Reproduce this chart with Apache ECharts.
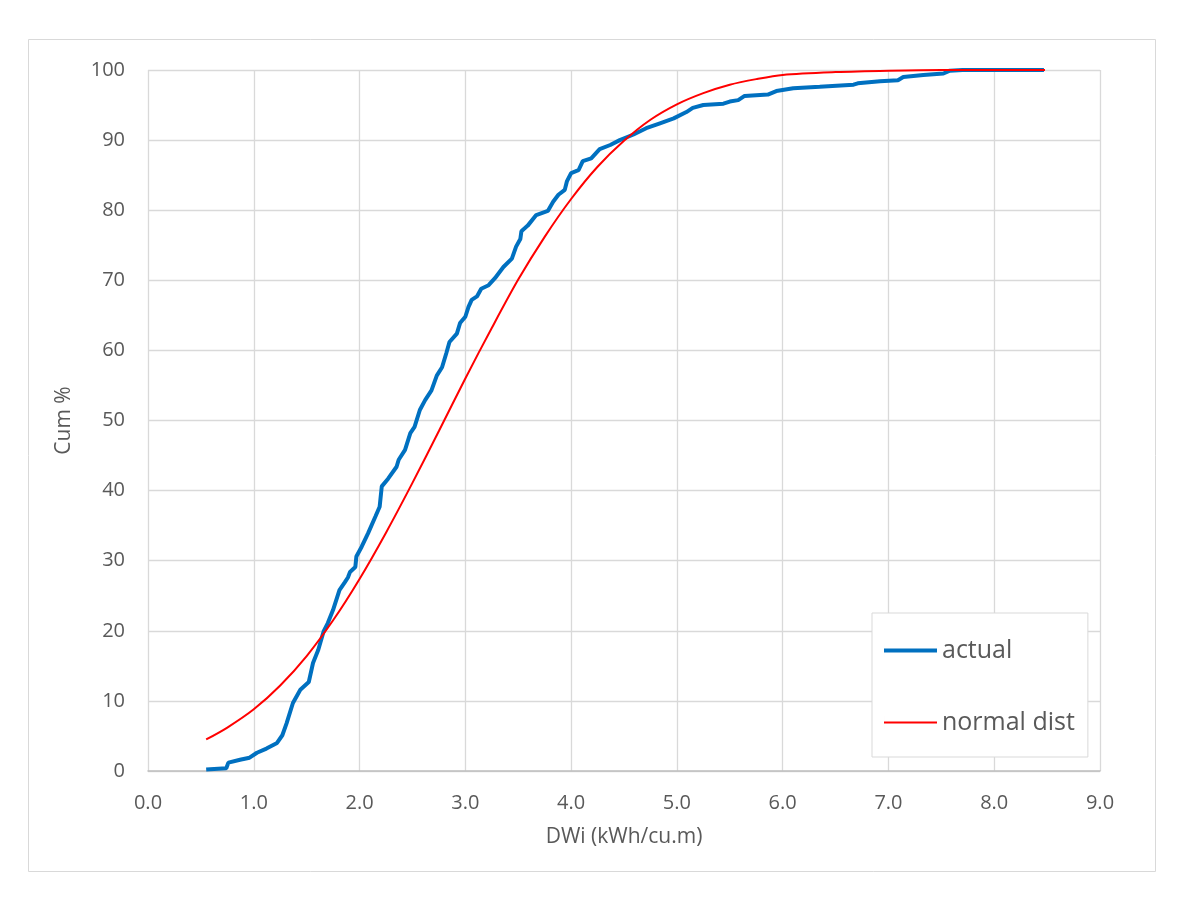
<!DOCTYPE html>
<html>
<head>
<meta charset="utf-8">
<script src="https://cdn.jsdelivr.net/npm/echarts@6/dist/echarts.min.js"></script>
<style>
html,body{margin:0;padding:0;background:#fff;}
#chart{width:1185px;height:914px;}
</style>
</head>
<body>
<div id="chart"></div>
<script>
// ---- data ----
const actualX = [0.55,0.74,0.76,0.87,0.96,1.03,1.12,1.22,1.27,1.31,1.37,1.44,1.52,1.56,1.61,1.66,1.70,1.75,1.81,1.86,1.89,1.91,1.96,1.97,2.02,2.08,2.15,2.19,2.21,2.27,2.35,2.37,2.43,2.48,2.52,2.57,2.62,2.68,2.73,2.78,2.82,2.85,2.92,2.95,3.00,3.03,3.06,3.11,3.15,3.22,3.28,3.36,3.44,3.48,3.52,3.53,3.59,3.67,3.78,3.83,3.88,3.94,3.96,4.00,4.07,4.11,4.19,4.27,4.37,4.46,4.59,4.71,4.84,4.97,5.09,5.15,5.25,5.44,5.50,5.58,5.64,5.86,5.94,6.10,6.35,6.67,6.71,6.92,7.09,7.14,7.33,7.52,7.58,7.70,8.47];
const actualY = [0.2,0.4,1.2,1.6,1.9,2.6,3.2,4.0,5.1,6.8,9.7,11.6,12.7,15.4,17.3,19.9,21.1,23.0,25.8,26.9,27.6,28.4,29.1,30.6,32.0,33.9,36.3,37.7,40.6,41.7,43.4,44.4,45.8,48.2,49.1,51.5,52.9,54.3,56.4,57.6,59.6,61.2,62.4,63.9,64.8,66.2,67.2,67.7,68.8,69.3,70.3,71.9,73.1,74.8,75.9,77.0,77.8,79.3,79.9,81.2,82.2,82.9,84.1,85.3,85.7,87.0,87.4,88.7,89.3,90.0,90.8,91.7,92.4,93.1,94.0,94.6,95.0,95.2,95.5,95.7,96.3,96.5,97.0,97.4,97.6,97.9,98.1,98.4,98.55,99.0,99.3,99.5,99.9,100,100];
const normalX = [0.55,0.75,1.0,1.25,1.5,1.75,2.0,2.25,2.5,2.75,3.0,3.25,3.5,3.75,4.0,4.25,4.5,4.75,5.0,5.25,5.5,5.75,6.0,6.5,7.0,7.5,8.0,8.48];
const normalY = [4.5,6.2,8.8,12.2,16.4,21.5,27.4,34.0,41.1,48.5,56.0,63.2,70.1,76.2,81.6,86.2,89.9,92.9,95.1,96.7,97.9,98.7,99.3,99.7,99.9,100,100,100];
const xTicks = {min:0, max:9, step:1};
const yTicks = {min:0, max:100, step:10};
const seriesNames = ['actual','normal dist'];
const xName = 'DWi (kWh/cu.m)';
const yName = 'Cum %';

const zip = (xs, ys) => xs.map((x,i)=>[x, ys[i]]);
const FONT = '"Open Sans", "Liberation Sans", sans-serif';
// legend glyphs: a horizontal bar inside a 53x14 box (tiny sliver fixes the box height)
const lineIcon = (h) => 'path://M0,' + (7 - h/2) + 'H53V' + (7 + h/2) + 'H0Z M0,0H0.01V14H0Z';
const chart = echarts.init(document.getElementById('chart'), null, {renderer:'canvas'});
chart.setOption({
  backgroundColor:'#ffffff',
  animation:false,
  textStyle:{fontFamily:FONT},
  graphic:[{type:'rect', z:-10, silent:true,
    shape:{x:28.5, y:39.5, width:1127, height:832},
    style:{fill:'none', stroke:'#d9d9d9', lineWidth:1}}],
  grid:{left:148, right:85, top:70, bottom:143, containLabel:false},
  xAxis:{
    type:'value', min:xTicks.min, max:xTicks.max, interval:xTicks.step,
    name:xName, nameLocation:'middle', nameGap:56,
    nameTextStyle:{color:'#595959', fontSize:21, fontFamily:FONT},
    axisLine:{show:true, lineStyle:{color:'#bfbfbf', width:1.5}},
    axisTick:{show:false},
    axisLabel:{color:'#595959', fontSize:20, margin:22, formatter:v=>v.toFixed(1)},
    splitLine:{show:true, lineStyle:{color:'#d9d9d9', width:1.3}}
  },
  yAxis:{
    type:'value', min:yTicks.min, max:yTicks.max, interval:yTicks.step,
    name:yName, nameLocation:'middle', nameGap:73, nameRotate:90,
    nameTextStyle:{color:'#595959', fontSize:21, fontFamily:FONT},
    axisLine:{show:false}, axisTick:{show:false},
    axisLabel:{color:'#595959', fontSize:20, margin:23},
    splitLine:{show:true, lineStyle:{color:'#d9d9d9', width:1.3}}
  },
  legend:{
    orient:'vertical', left:872, top:613,
    padding:[25,13,22,12], itemGap:47, itemWidth:53, itemHeight:14,
    backgroundColor:'#ffffff', borderColor:'#d9d9d9', borderWidth:1,
    textStyle:{color:'#595959', fontSize:25, fontFamily:FONT},
    data:[{name:seriesNames[0], icon:lineIcon(4)}, {name:seriesNames[1], icon:lineIcon(2)}]
  },
  series:[
    {name:seriesNames[0], type:'line', data:zip(actualX, actualY), symbol:'none',
     lineStyle:{color:'#0070c0', width:4}, itemStyle:{color:'#0070c0'}, z:2},
    {name:seriesNames[1], type:'line', data:zip(normalX, normalY), symbol:'none', smooth:0.3,
     lineStyle:{color:'#ff0000', width:2}, itemStyle:{color:'#ff0000'}, z:3}
  ]
});
</script>
</body>
</html>
